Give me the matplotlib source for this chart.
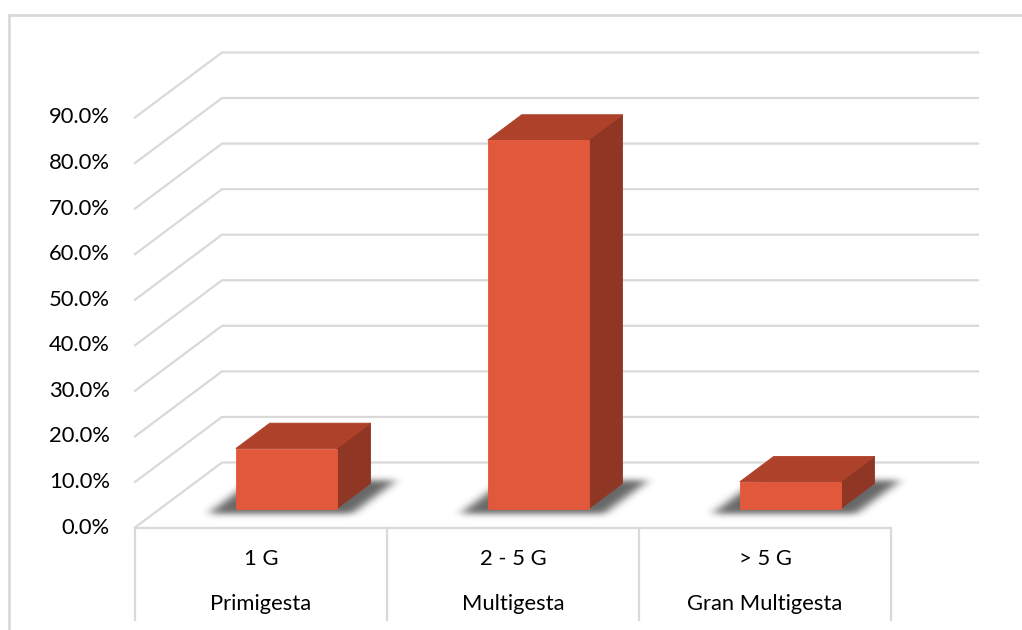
import numpy as np
import matplotlib
matplotlib.use("Agg")
import matplotlib.pyplot as plt
from matplotlib.patches import Polygon
from matplotlib.lines import Line2D
from matplotlib.path import Path

# ---- data -------------------------------------------------------------
group_codes = ["1 G", "2 - 5 G", "> 5 G"]
group_names = ["Primigesta", "Multigesta", "Gran Multigesta"]
percentages = [13.2, 80.9, 5.9]
y_ticks = [0, 10, 20, 30, 40, 50, 60, 70, 80, 90]
y_tick_labels = [f"{t:.1f}%" for t in y_ticks]

# ---- style -------------------------------------------------------------
FONT = "Lato"
FS = 15.8
GRID = "#D9D9D9"
FRONT = "#E2583B"
TOP = "#AD412A"
SIDE = "#8F3624"

W, H = 1022, 630
fig = plt.figure(figsize=(W / 100, H / 100), dpi=100)
ax = fig.add_axes([0, 0, 1, 1])
ax.axis("off")

# front plane: one unit per category horizontally, percent vertically
PX_CAT = 252.0          # pixels per category
PX_PCT = 4.556          # pixels per percent
X0_PX, Y0_PX = 135.0, 527.5   # pixel of (0, 0%) on the front plane
xlim = (-X0_PX / PX_CAT, (W - X0_PX) / PX_CAT)
ylim = ((Y0_PX - H) / PX_PCT, Y0_PX / PX_PCT)

# depth vector of the 3-D box (in data units)
DX = 87.0 / PX_CAT
DY = 65.0 / PX_PCT


def proj(x, v, d):
    return (x + d * DX, v + d * DY)


n = len(percentages)

# ---- walls and gridlines ----------------------------------------------
for t in y_ticks:
    p0, p1, p2 = proj(0, t, 0), proj(0, t, 1), proj(n, t, 1)
    ax.add_line(Line2D([p0[0], p1[0], p2[0]], [p0[1], p1[1], p2[1]],
                       color=GRID, lw=1.6, zorder=1, solid_joinstyle="miter"))

# ---- bar geometry ------------------------------------------------------
BAR_W = 0.40
D0, D1 = 0.29, 0.68

# ---- soft shadows on the floor ----------------------------------------
gx0, gx1 = 0.0, n + DX
gy0, gy1 = -2.0, DY + 2.0
nx = int((gx1 - gx0) * PX_CAT)
ny = int((gy1 - gy0) * PX_PCT)
xs = np.linspace(gx0, gx1, nx)
ys = np.linspace(gy0, gy1, ny)
XX, YY = np.meshgrid(xs, ys)
pts = np.column_stack([XX.ravel(), YY.ravel()])
mask = np.zeros(XX.shape)
for i, v in enumerate(percentages):
    cx = i + 0.5
    sx0, sx1 = cx - BAR_W / 2 - 0.085, cx + BAR_W / 2 + 0.085
    sd0, sd1 = 0.21, 0.72
    poly = [proj(sx0, 0, sd0), proj(sx1, 0, sd0), proj(sx1, 0, sd1), proj(sx0, 0, sd1)]
    mask = np.maximum(mask, Path(poly).contains_points(pts).reshape(XX.shape).astype(float))


def blur(a, sigma, axis):
    r = int(3 * sigma)
    k = np.exp(-0.5 * (np.arange(-r, r + 1) / sigma) ** 2)
    k /= k.sum()
    return np.apply_along_axis(lambda m: np.convolve(m, k, mode="same"), axis, a)


mask = blur(blur(mask, 5.0, 1), 3.0, 0)
rgba = np.zeros(mask.shape + (4,))
rgba[..., :3] = 0.15
rgba[..., 3] = np.clip(mask * 0.7, 0, 1)
ax.imshow(rgba, extent=(gx0, gx1, gy0, gy1), origin="lower",
          aspect="auto", interpolation="bilinear", zorder=2)

# ---- bars --------------------------------------------------------------
for i, v in enumerate(percentages):
    cx = i + 0.5
    x0, x1 = cx - BAR_W / 2, cx + BAR_W / 2
    front = [proj(x0, 0, D0), proj(x1, 0, D0), proj(x1, v, D0), proj(x0, v, D0)]
    top = [proj(x0, v, D0), proj(x1, v, D0), proj(x1, v, D1), proj(x0, v, D1)]
    side = [proj(x1, 0, D0), proj(x1, 0, D1), proj(x1, v, D1), proj(x1, v, D0)]
    for pts_, col in ((side, SIDE), (top, TOP), (front, FRONT)):
        ax.add_patch(Polygon(pts_, closed=True, facecolor=col, edgecolor=col,
                             lw=0.6, zorder=3, joinstyle="miter"))

# ---- category table ----------------------------------------------------
table_bottom = (Y0_PX - 620) / PX_PCT
ax.add_line(Line2D([0, n], [0, 0], color=GRID, lw=1.6, zorder=1))
for k in range(n + 1):
    ax.add_line(Line2D([k, k], [0, table_bottom], color=GRID, lw=1.6, zorder=1))

for i in range(n):
    ax.text(i + 0.5, (Y0_PX - 559) / PX_PCT, group_codes[i], ha="center",
            va="center", fontsize=FS, family=FONT, color="#000000")
    ax.text(i + 0.5, (Y0_PX - 604) / PX_PCT, group_names[i], ha="center",
            va="center", fontsize=FS, family=FONT, color="#000000")

# ---- value axis labels -------------------------------------------------
for t, lab in zip(y_ticks, y_tick_labels):
    ax.text(-25 / PX_CAT, t, lab, ha="right", va="center",
            fontsize=FS, family=FONT, color="#000000")

ax.set_xlim(*xlim)
ax.set_ylim(*ylim)

# ---- chart area border -------------------------------------------------
fig.add_artist(Line2D([9 / W, 9 / W], [0, 1 - 15 / H], color=GRID, lw=2,
                      transform=fig.transFigure))
fig.add_artist(Line2D([9 / W, 1], [1 - 15 / H, 1 - 15 / H], color=GRID, lw=2,
                      transform=fig.transFigure))

fig.savefig("out.png", dpi=100, facecolor="white")
